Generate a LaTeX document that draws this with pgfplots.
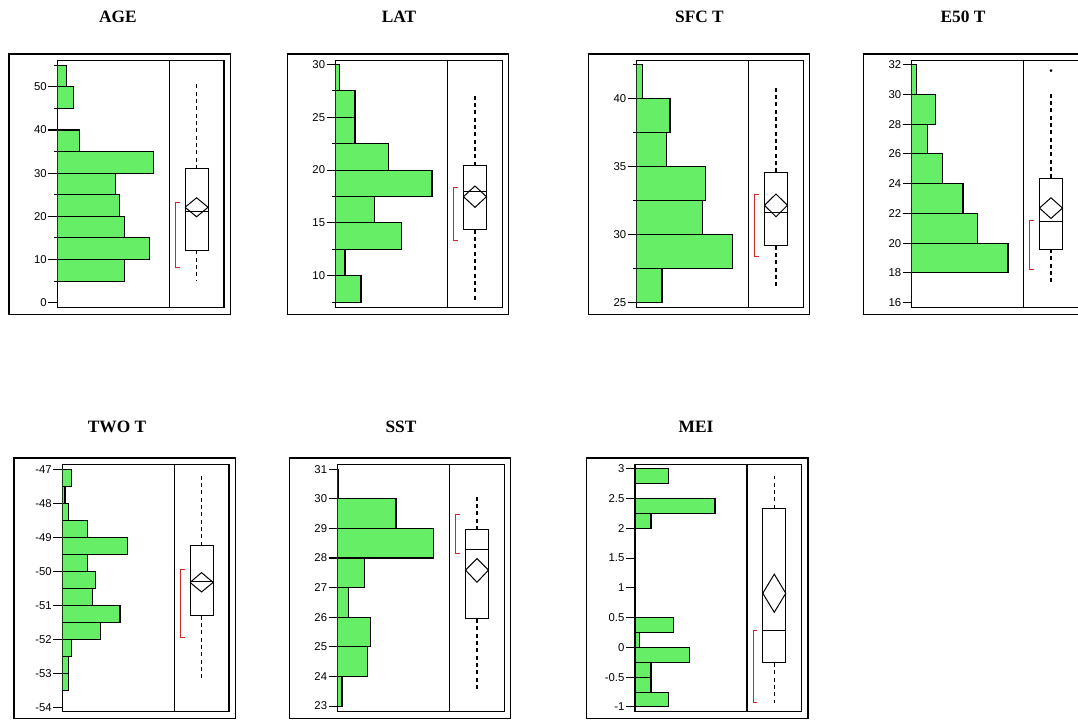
\documentclass[border=0pt]{standalone}
\usepackage{pgfplots}
\pgfplotsset{compat=1.18}
\usepackage{fontspec}
\setmainfont{Liberation Sans}
\newfontfamily\serifb{Liberation Serif}
\definecolor{hgreen}{RGB}{102,238,102}
\definecolor{bred}{RGB}{205,40,40}
\pgfplotsset{
  panel/.style={
    anchor=south west, scale only axis, width=125pt, height=185.7pt,
    xmin=0, xmax=166.7, xtick=\empty, ytick pos=left, tick align=outside,
    major tick length=6.75pt, minor tick length=2.6pt,
    axis line style={line width=0.8pt},
    every tick/.style={black, line width=0.8pt},
    yticklabel style={font=\fontsize{8.5}{9}\selectfont, inner sep=1pt},
    /pgf/number format/assume math mode=true,
    extra x ticks={112}, extra x tick labels={},
    extra x tick style={grid=major, major grid style={black, line width=0.8pt}, major tick length=0pt},
  },
  bars/.style={xbar interval, fill=hgreen, draw=black, line width=0.8pt},
  wh/.style={black, line width=0.8pt, dash pattern=on 3pt off 2.5pt},
  bx/.style={black, line width=0.75pt},
  rb/.style={bred, line width=0.75pt},
}
% Q1, median, Q3, whisker low, whisker high, bracket low, bracket high
\newcommand\boxelems[7]{%
  \addplot[wh] coordinates {(139.3,#3) (139.3,#5)};
  \addplot[wh] coordinates {(139.3,#1) (139.3,#4)};
  \addplot[bx] coordinates {(127.8,#1) (150.8,#1) (150.8,#3) (127.8,#3) (127.8,#1)};
  \addplot[bx] coordinates {(127.8,#2) (150.8,#2)};
  \addplot[rb] coordinates {(122.3,#7) (118.3,#7) (118.3,#6) (122.3,#6)};
}
% mean, diamond low, diamond high
\newcommand\meandiamond[3]{%
  \addplot[bx] coordinates {(127.8,#1) (139.3,#3) (150.8,#1) (139.3,#2) (127.8,#1)};
}
\newcommand\outerframe[1]{%
  \draw[line width=1pt] ([shift={(-36.3pt,-4.95pt)}]#1.south west) rectangle ([shift={(4.725pt,4.5pt)}]#1.north east);
}
\begin{document}
\begin{tikzpicture}
\useasboundingbox (0,0) rectangle (808.5pt,540.75pt);
\clip (0,0) rectangle (808.5pt,540.75pt);

% AGE
\begin{axis}[panel, name=a1, at={(42.975pt,309.975pt)}, ymin=-1.16, ymax=56.2,
  ytick={0,10,20,30,40,50}, minor ytick={5,15,25,35,45,55}]
\addplot[bars] coordinates {(67,5) (92,10) (67,15) (62,20) (58,25) (96,30) (22,35) (0,40) (16,45) (9.3,50) (0,55)};
\boxelems{12.1}{21.1}{31.0}{5.1}{51.2}{8.1}{23.3}
\meandiamond{22.1}{19.9}{24.3}
\end{axis}
\outerframe{a1}

% LAT
\begin{axis}[panel, name=a2, at={(251.775pt,309.975pt)}, ymin=6.97, ymax=30.41,
  ytick={10,15,20,25,30}, minor ytick={7.5,12.5,17.5,22.5,27.5}]
\addplot[bars] coordinates {(25.3,7.5) (9.3,10) (65.7,12.5) (38.7,15) (96.3,17.5) (52.7,20) (19.3,22.5) (19.3,25) (3.7,27.5) (0,30)};
\boxelems{14.35}{17.98}{20.41}{7.63}{27.19}{13.31}{18.33}
\meandiamond{17.48}{16.47}{18.49}
\end{axis}
\outerframe{a2}

% SFC T
\begin{axis}[panel, name=a3, at={(477.525pt,309.975pt)}, ymin=24.63, ymax=42.84,
  ytick={25,30,35,40}, minor ytick={27.5,32.5,37.5,42.5}]
\addplot[bars] coordinates {(25.3,25) (96,27.5) (65.7,30) (68.7,32.5) (29.7,35) (33.3,37.5) (6,40) (0,42.5)};
\boxelems{29.19}{31.62}{34.58}{26.13}{41.0}{28.36}{32.99}
\meandiamond{32.16}{31.32}{32.99}
\end{axis}
\outerframe{a3}

% E50 T
\begin{axis}[panel, name=a4, at={(683.775pt,309.975pt)}, ymin=15.66, ymax=32.31,
  ytick={16,18,20,22,24,26,28,30,32}]
\addplot[bars] coordinates {(0,16) (96.3,18) (65.7,20) (51.3,22) (30.7,24) (15.7,26) (24,28) (5,30) (0,32)};
\boxelems{19.60}{21.44}{24.35}{17.40}{30.23}{18.23}{21.55}
\meandiamond{22.36}{21.66}{23.05}
\addplot[only marks, mark=*, mark size=0.8pt, black] coordinates {(139.3,31.6)};
\end{axis}
\outerframe{a4}

% TWO T
\begin{axis}[panel, name=a5, at={(46.725pt,6.975pt)}, ymin=-54.13, ymax=-46.85,
  ytick={-54,-53,-52,-51,-50,-49,-48,-47}]
\addplot[bars] coordinates {(6.3,-53.5) (6.3,-53) (9.3,-52.5) (38,-52) (57.7,-51.5) (30.3,-51) (33.3,-50.5) (25,-50) (65.3,-49.5) (25.3,-49) (6,-48.5) (2.7,-48) (9.3,-47.5) (0,-47)};
\boxelems{-51.31}{-50.31}{-49.25}{-53.13}{-47.17}{-51.94}{-49.96}
\meandiamond{-50.33}{-50.61}{-50.04}
\end{axis}
\outerframe{a5}

% SST
\begin{axis}[panel, name=a6, at={(253.275pt,6.975pt)}, ymin=22.81, ymax=31.17,
  ytick={23,24,25,26,27,28,29,30,31}]
\addplot[bars] coordinates {(4.3,23) (29.7,24) (33,25) (10.7,26) (26.7,27) (95.7,28) (58.3,29) (0.6,30) (0,31)};
\boxelems{25.94}{28.27}{28.95}{23.54}{30.08}{28.15}{29.46}
\meandiamond{27.59}{27.18}{27.98}
\end{axis}
\outerframe{a6}

% MEI
\begin{axis}[panel, name=a7, at={(476.25pt,6.975pt)}, ymin=-1.08, ymax=3.08,
  ytick={-1,-0.5,0,0.5,1,1.5,2,2.5,3}]
\addplot[bars] coordinates {(33.3,-1) (16,-0.75) (16,-0.5) (54.3,-0.25) (4.3,0) (38.3,0.25) (0,0.5) (0,0.75) (0,1) (0,1.25) (0,1.5) (0,1.75) (16,2) (80,2.25) (0,2.5) (33.3,2.75) (0,3)};
\boxelems{-0.26}{0.29}{2.33}{-0.94}{2.88}{-0.93}{0.29}
\meandiamond{0.91}{0.59}{1.23}
\end{axis}
\outerframe{a7}

% titles
\node[anchor=base, font=\serifb\bfseries\fontsize{13}{15}\selectfont] at (88.5pt,523.7pt) {AGE};
\node[anchor=base, font=\serifb\bfseries\fontsize{13}{15}\selectfont] at (299.25pt,523.7pt) {LAT};
\node[anchor=base, font=\serifb\bfseries\fontsize{13}{15}\selectfont] at (524.6pt,523.7pt) {SFC T};
\node[anchor=base, font=\serifb\bfseries\fontsize{13}{15}\selectfont] at (722.25pt,523.7pt) {E50 T};
\node[anchor=base, font=\serifb\bfseries\fontsize{13}{15}\selectfont] at (87.75pt,216.2pt) {TWO T};
\node[anchor=base, font=\serifb\bfseries\fontsize{13}{15}\selectfont] at (300.75pt,216.2pt) {SST};
\node[anchor=base, font=\serifb\bfseries\fontsize{13}{15}\selectfont] at (522pt,216.2pt) {MEI};
\end{tikzpicture}
\end{document}
